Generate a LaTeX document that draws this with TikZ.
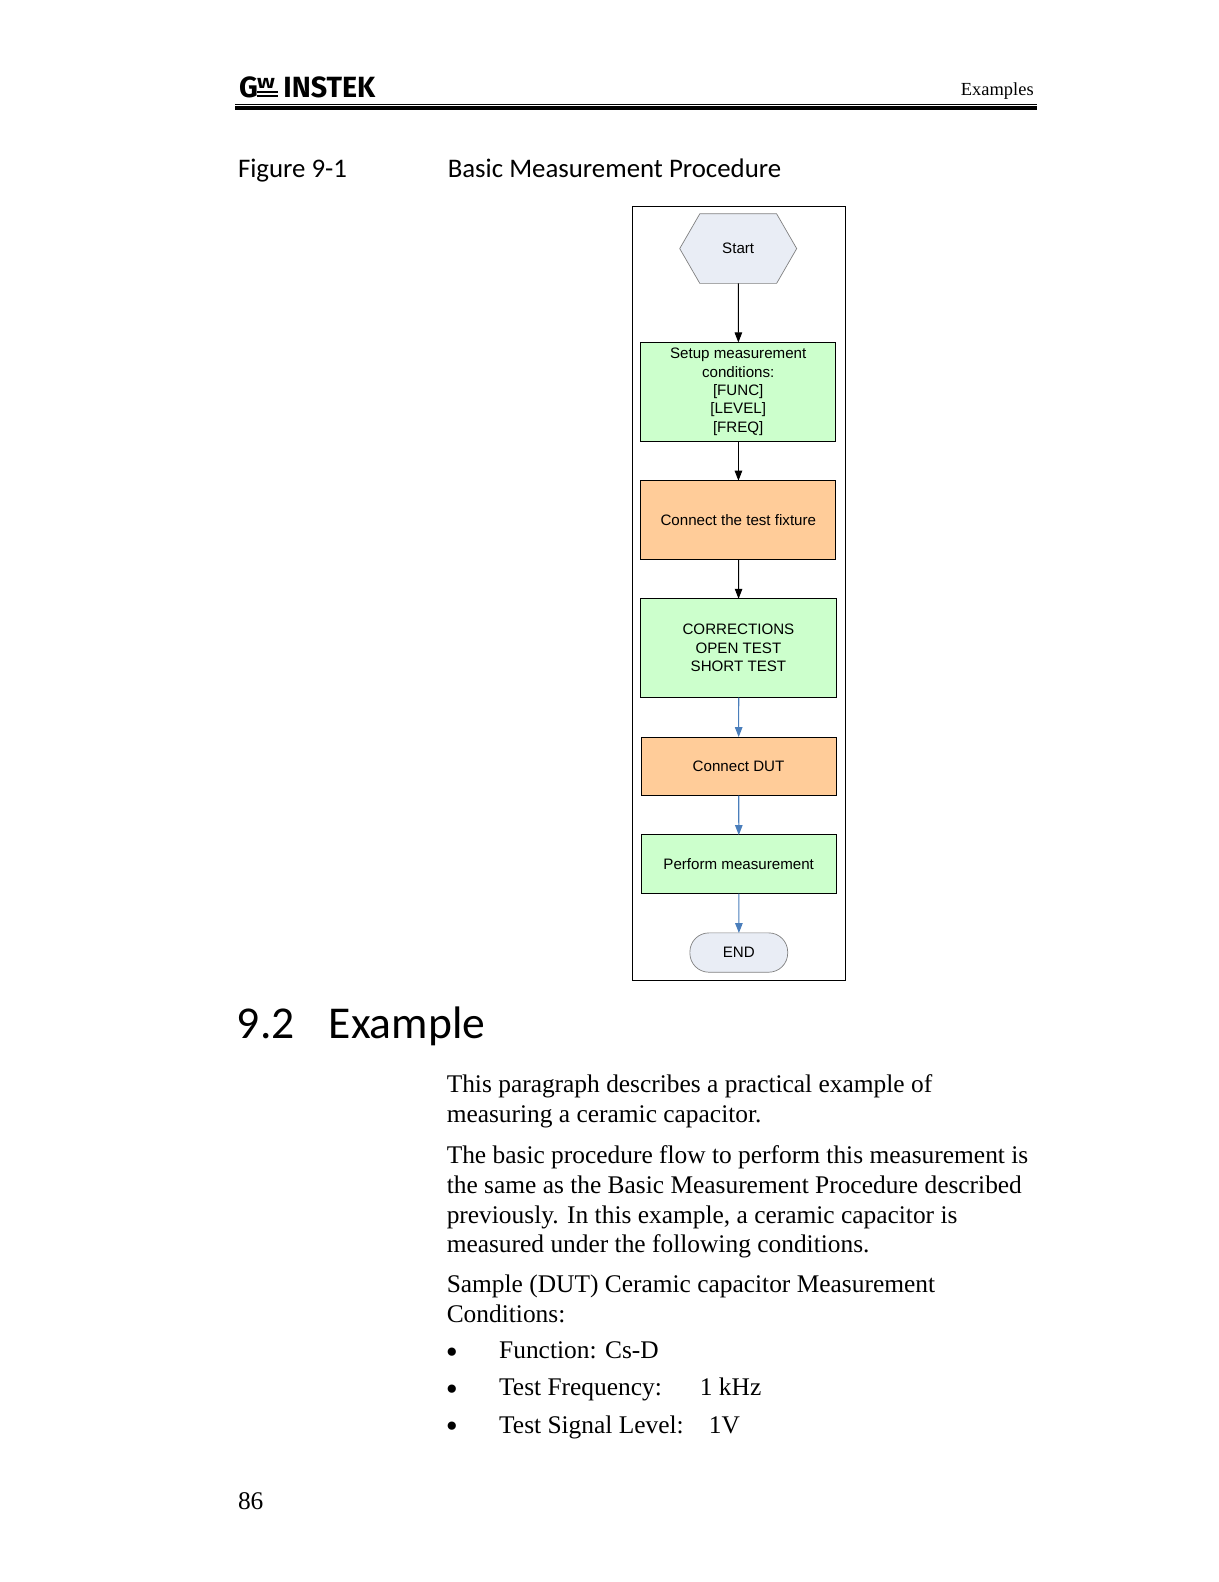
\documentclass[tikz,border=0pt]{standalone}
\usepackage{fontspec}
\setmainfont{Liberation Serif}
\newfontfamily\chartfont{Liberation Sans}
\newfontfamily\gillfont{Carlito}
\newfontfamily\logofont{Fira Sans}
\usetikzlibrary{positioning, shapes.symbols, arrows.meta}
\definecolor{stepgreen}{HTML}{CCFFCC}
\definecolor{steporange}{HTML}{FFCC99}
\definecolor{termfill}{HTML}{E9EDF5}
\definecolor{flowblue}{HTML}{4A7EBB}

\begin{document}
\begin{tikzpicture}[
        x=1pt, y=-1pt,
        scale=1.0085, transform shape, % positions below read off at this scale
        every node/.style={inner sep=0pt, outer sep=0pt},
        box/.style={
            draw, align=center, line width=0.9pt,
            font=\chartfont\fontsize{15}{18.2}\selectfont,
            minimum width=193.5pt
        },
        greenbox/.style={box, fill=stepgreen},
        orangebox/.style={box, fill=steporange},
        terminal/.style={
            draw=black!50, fill=termfill, line width=0.7pt,
            font=\chartfont\fontsize{15}{18.2}\selectfont
        },
        flow/.style={-{Triangle[length=10pt, width=7.5pt]}, line width=0.9pt},
        blueflow/.style={flow, draw=flowblue, line width=1.1pt},
        body/.style={anchor=north west, align=left,
            font=\fontsize{25.2}{29.5}\selectfont},
        listline/.style={anchor=base west, font=\fontsize{25.2}{29.5}\selectfont},
        gill/.style={anchor=base west, font=\gillfont\fontsize{26.6}{30}\selectfont},
        heading/.style={anchor=base west, font=\gillfont\fontsize{45.2}{50}\selectfont},
        logotext/.style={anchor=base west, font=\logofont\bfseries\fontsize{29}{29}\selectfont}
      ]
        \useasboundingbox (0,0) rectangle (1208.7,1568.7);

        % page header
        \node[logotext] (logog) at (237,96.5) {G};
        \node[logotext, xscale=0.72, yscale=0.5] (logow) at (255,88) {W};
        \node[logotext, xscale=0.98] (logoname) at (281,96.5) {INSTEK};
        \coordinate (markleft) at (255,91);
        \coordinate (markright) at (276,91);
        \coordinate (barleft) at (255,95);
        \coordinate (barright) at (276,95);
        \draw[line width=1.8pt] (markleft) -- (markright);
        \draw[line width=1.8pt] (barleft) -- (barright);
        \node[anchor=base east, font=\fontsize{18.3}{22}\selectfont] (section) at (1025,95) {Examples};
        \coordinate (ruleleft) at (233,103.3);
        \coordinate (ruleright) at (1028,103.3);
        \coordinate (thickleft) at (233,107);
        \coordinate (thickright) at (1028,107);
        \draw[line width=1.2pt] (ruleleft) -- (ruleright);
        \draw[line width=3.5pt] (thickleft) -- (thickright);

        \node[gill] (figno) at (236,176) {Figure 9-1};
        \node[gill] (figtitle) at (444,176) {Basic Measurement Procedure};

        % flow chart
        \node[draw, line width=0.9pt, minimum width=211pt, minimum height=767pt] (frame) at (732.5,588.5) {};
        \node[terminal, signal, signal to=east and west, signal pointer angle=120,
              minimum width=116pt, minimum height=69pt] (start) at (732,246.5) {Start};
        \node[greenbox, minimum height=98pt] (setup) at (732,388.5)
            {Setup measurement\\conditions:\\{[FUNC]}\\{[LEVEL]}\\{[FREQ]}};
        \node[orangebox, minimum height=78pt, below=39pt of setup] (fixture) {Connect the test fixture};
        \node[greenbox, minimum height=98pt, below=39pt of fixture] (corr) {CORRECTIONS\\OPEN TEST\\SHORT TEST};
        \node[orangebox, minimum height=58pt, below=39pt of corr] (dut) {Connect DUT};
        \node[greenbox, minimum height=58pt, below=39pt of dut] (perform) {Perform measurement};
        \node[terminal, rounded corners=19pt, minimum width=97pt, minimum height=39pt,
              below=39pt of perform] (stop) {END};

        \draw[flow] (start) -- (setup);
        \draw[flow] (setup) -- (fixture);
        \draw[flow] (fixture) -- (corr);
        \draw[blueflow] (corr) -- (dut);
        \draw[blueflow] (dut) -- (perform);
        \draw[blueflow] (perform) -- (stop);

        % text below
        \node[heading] (secno) at (235,1030) {9.2};
        \node[heading] (sectitle) at (326,1030) {Example};

        \node[body] (para1) at (443,1066) {This paragraph describes a practical example of\\measuring a ceramic capacitor.};
        \node[body] (para2) at (443,1136) {The basic procedure flow to perform this measurement is\\the same as the Basic Measurement Procedure described\\previously. In this example, a ceramic capacitor is\\measured under the following conditions.};
        \node[body] (para3) at (443,1264) {Sample (DUT) Ceramic capacitor Measurement\\Conditions:};

        \foreach \name/\ypos/\itemtext in {one/1347/{Function: Cs-D}, two/1384/{Test Frequency:}, three/1421/{Test Signal Level:}} {
            \node[listline, scale=1.35, yshift=-3.5pt] (bullet\name) at (442,\ypos) {•};
            \node[listline] (item\name) at (495,\ypos) {\itemtext};
        }
        \node[listline] (freq) at (694,1384) {1 kHz};
        \node[listline] (level) at (703,1421) {1V};

        \node[listline] (pageno) at (236,1497) {86};
      \end{tikzpicture}
\end{document}
